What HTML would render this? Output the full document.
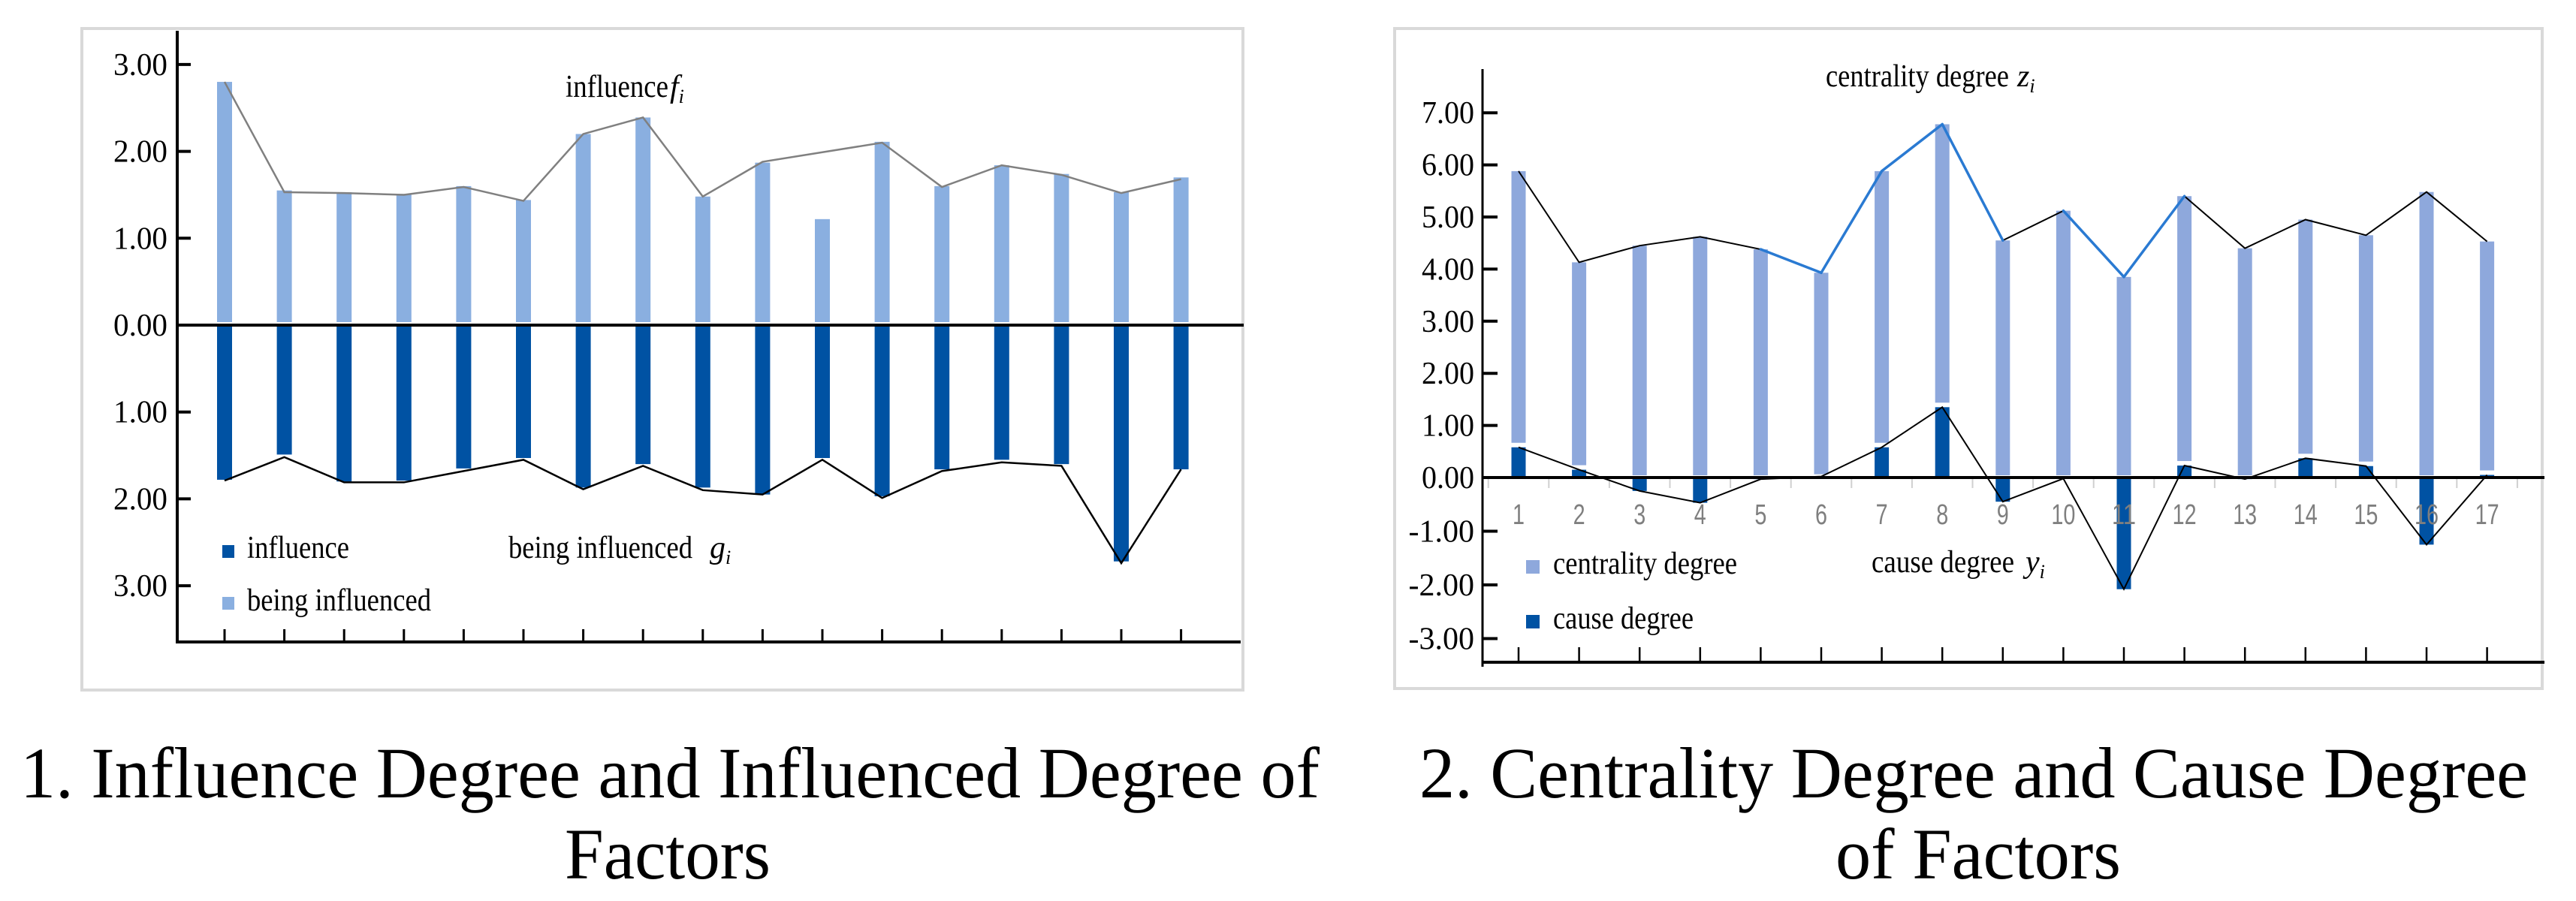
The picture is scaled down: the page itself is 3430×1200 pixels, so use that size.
<!DOCTYPE html>
<html><head><meta charset="utf-8"><style>
html,body{margin:0;padding:0;background:#fff;}
svg{display:block;font-family:"Liberation Serif",serif;}
</style></head><body>
<svg id="root" width="3430" height="1200" viewBox="0 0 3430 1200" xmlns="http://www.w3.org/2000/svg">
<g id="c1"></g>
<g id="c2"></g>
<text x="892" y="1062" font-size="96" text-anchor="middle" textLength="1730" lengthAdjust="spacingAndGlyphs">1. Influence Degree and Influenced Degree of</text>
<text x="889" y="1170" font-size="96" text-anchor="middle" textLength="274" lengthAdjust="spacingAndGlyphs">Factors</text>
<text x="2628" y="1062" font-size="96" text-anchor="middle" textLength="1476" lengthAdjust="spacingAndGlyphs">2. Centrality Degree and Cause Degree</text>
<text x="2634" y="1170" font-size="96" text-anchor="middle" textLength="380" lengthAdjust="spacingAndGlyphs">of Factors</text>
</svg>
<script>
// ---- Chart 1 data ----
const cats1 = [1,2,3,4,5,6,7,8,9,10,11,12,13,14,15,16,17];
const beingInfluenced = [2.80,1.55,1.53,1.51,1.60,1.44,2.20,2.39,1.48,1.87,1.22,2.11,1.60,1.84,1.74,1.53,1.70];
const fLine = [2.80,1.53,1.52,1.50,1.59,1.43,2.20,2.39,1.48,1.88,1.99,2.10,1.59,1.84,1.73,1.52,1.68];
const influence = [1.78,1.49,1.80,1.79,1.65,1.53,1.87,1.60,1.87,1.95,1.53,1.97,1.66,1.55,1.60,2.72,1.66];
const gLine = [1.79,1.52,1.81,1.81,1.68,1.55,1.89,1.62,1.90,1.95,1.55,1.99,1.68,1.58,1.62,2.74,1.66];
const ticks1Up = [3,2,1,0];
const ticks1Down = [1,2,3];
const tickLabels1Up = ["3.00","2.00","1.00","0.00"];
const tickLabels1Down = ["1.00","2.00","3.00"];
// ---- Chart 2 data ----
const cats2 = ["1","2","3","4","5","6","7","8","9","10","11","12","13","14","15","16","17"];
const centrality = [5.88,4.13,4.45,4.62,4.38,3.93,5.88,6.78,4.55,5.12,3.85,5.40,4.40,4.95,4.65,5.48,4.53];
const cause = [0.58,0.15,-0.25,-0.47,-0.03,0.02,0.58,1.35,-0.45,-0.02,-2.08,0.23,-0.03,0.37,0.22,-1.25,0.05];
const blueSegments = [4,5,6,7,9,10];
const ticks2 = [7,6,5,4,3,2,1,0,-1,-2,-3];
const tickLabels2 = ["7.00","6.00","5.00","4.00","3.00","2.00","1.00","0.00","-1.00","-2.00","-3.00"];

const NS="http://www.w3.org/2000/svg";
function mk(parent,tag,attrs,text){const e=document.createElementNS(NS,tag);for(const k in attrs)e.setAttribute(k,attrs[k]);if(text!==undefined)e.textContent=text;parent.appendChild(e);return e;}

// ===== Chart 1 =====
(function(){
const g=document.getElementById('c1');
const x=i=>299+i*79.6;
const yUp=v=>433-v*115.7;
const yDn=v=>433+v*115.7;
let e=mk(g,'rect',{x:109,y:38,width:1546,height:881,fill:'#fff',stroke:'#d9d9d9','stroke-width':4});

beingInfluenced.forEach((v,i)=>{const b=mk(g,'rect',{x:x(i)-10,y:yUp(v),width:20,height:yUp(0)-4-yUp(v),fill:'#8aafe0'});
});
influence.forEach((v,i)=>{const b=mk(g,'rect',{x:x(i)-10,y:yDn(0)+2,width:20,height:yDn(v)-yDn(0)-2,fill:'#0052a3'});
});
e=mk(g,'polyline',{points:fLine.map((v,i)=>x(i)+','+yUp(v)).join(' '),fill:'none',stroke:'#808080','stroke-width':2.5});

e=mk(g,'polyline',{points:gLine.map((v,i)=>x(i)+','+yDn(v)).join(' '),fill:'none',stroke:'#000','stroke-width':2.5});

e=mk(g,'line',{x1:236,y1:41,x2:236,y2:857,stroke:'#000','stroke-width':4});

e=mk(g,'line',{x1:236,y1:433,x2:1656,y2:433,stroke:'#000','stroke-width':4});

e=mk(g,'line',{x1:234,y1:855,x2:1652,y2:855,stroke:'#000','stroke-width':4});

cats1.forEach((c,i)=>{const t=mk(g,'line',{x1:x(i),y1:838,x2:x(i),y2:855,stroke:'#000','stroke-width':3});
});
ticks1Up.forEach((v,i)=>{const y=yUp(v);const t=mk(g,'line',{x1:236,y1:y,x2:254,y2:y,stroke:'#000','stroke-width':4});

const l=mk(g,'text',{x:223,y:y+14,'font-size':42,'text-anchor':'end',textLength:72,lengthAdjust:'spacingAndGlyphs'},tickLabels1Up[i]);
});
ticks1Down.forEach((v,i)=>{const y=yDn(v);const t=mk(g,'line',{x1:236,y1:y,x2:254,y2:y,stroke:'#000','stroke-width':4});

const l=mk(g,'text',{x:223,y:y+14,'font-size':42,'text-anchor':'end',textLength:72,lengthAdjust:'spacingAndGlyphs'},tickLabels1Down[i]);
});
e=mk(g,'text',{x:753,y:129,'font-size':42,textLength:137,lengthAdjust:'spacingAndGlyphs'},'influence');

e=mk(g,'text',{x:892,y:129,'font-size':42,'font-style':'italic'},'f');

mk(e,'tspan',{'font-size':26,dy:8},'i');
e=mk(g,'text',{x:677,y:743,'font-size':42,textLength:245,lengthAdjust:'spacingAndGlyphs'},'being influenced');

e=mk(g,'text',{x:945,y:743,'font-size':42,'font-style':'italic'},'g');

mk(e,'tspan',{'font-size':26,dy:8},'i');
e=mk(g,'rect',{x:296,y:726,width:16,height:17,fill:'#0052a3'});

e=mk(g,'text',{x:329,y:743,'font-size':42,textLength:136,lengthAdjust:'spacingAndGlyphs'},'influence');

e=mk(g,'rect',{x:296,y:795,width:16,height:17,fill:'#8aafe0'});

e=mk(g,'text',{x:329,y:813,'font-size':42,textLength:245,lengthAdjust:'spacingAndGlyphs'},'being influenced');

})();

// ===== Chart 2 =====
(function(){
const g=document.getElementById('c2');
const x=i=>2022+i*80.6;
const y=v=>v>=0?636-v*69.4:636-v*71.5;
let e=mk(g,'rect',{x:1857,y:38,width:1528,height:879,fill:'#fff',stroke:'#d9d9d9','stroke-width':4});

for(let i=0;i<=cats2.length;i++){const t=mk(g,'line',{x1:x(i)-40.3,y1:636,x2:x(i)-40.3,y2:650,stroke:'#d0d0d0','stroke-width':2});
}
centrality.forEach((v,i)=>{const base=Math.max(cause[i],0);const b0=y(base)-(base>0.02?6:3);
const b=mk(g,'rect',{x:x(i)-9.5,y:y(v),width:19,height:Math.max(0,b0-y(v)),fill:'#8ea8dc'});
});
cause.forEach((v,i)=>{const y0=Math.min(y(v),y(0)),h=Math.abs(y(v)-y(0));
const b=mk(g,'rect',{x:x(i)-9.5,y:y0,width:19,height:h,fill:'#0052a3'});
});
e=mk(g,'polyline',{points:centrality.map((v,i)=>x(i)+','+y(v)).join(' '),fill:'none',stroke:'#000','stroke-width':2});

blueSegments.forEach(s=>{const l=mk(g,'line',{x1:x(s),y1:y(centrality[s]),x2:x(s+1),y2:y(centrality[s+1]),stroke:'#2a7ad2','stroke-width':3.5,'stroke-linecap':'round'});
});
e=mk(g,'polyline',{points:cause.map((v,i)=>x(i)+','+y(v)).join(' '),fill:'none',stroke:'#000','stroke-width':2});

e=mk(g,'line',{x1:1974,y1:92,x2:1974,y2:888,stroke:'#000','stroke-width':3});

e=mk(g,'line',{x1:1974,y1:636,x2:3388,y2:636,stroke:'#000','stroke-width':4});

e=mk(g,'line',{x1:1974,y1:882,x2:3388,y2:882,stroke:'#000','stroke-width':4});

cats2.forEach((c,i)=>{const t=mk(g,'line',{x1:x(i),y1:862,x2:x(i),y2:882,stroke:'#000','stroke-width':2.5});

const l=mk(g,'text',{x:x(i),y:698,'font-size':38,'text-anchor':'middle',fill:'#7f7f7f','font-family':'"Liberation Sans Narrow","Liberation Sans",sans-serif',textLength:c.length*16,lengthAdjust:'spacingAndGlyphs'},c);
});
ticks2.forEach((v,i)=>{const yy=y(v);const t=mk(g,'line',{x1:1974,y1:yy,x2:1994,y2:yy,stroke:'#000','stroke-width':4});

const l=mk(g,'text',{x:1963,y:yy+14,'font-size':42,'text-anchor':'end',textLength:tickLabels2[i].length*17.5,lengthAdjust:'spacingAndGlyphs'},tickLabels2[i]);
});
e=mk(g,'text',{x:2431,y:115,'font-size':42,textLength:244,lengthAdjust:'spacingAndGlyphs'},'centrality degree');

e=mk(g,'text',{x:2686,y:115,'font-size':42,'font-style':'italic'},'z');

mk(e,'tspan',{'font-size':26,dy:8},'i');
e=mk(g,'text',{x:2492,y:762,'font-size':42,textLength:190,lengthAdjust:'spacingAndGlyphs'},'cause degree');

e=mk(g,'text',{x:2697,y:762,'font-size':42,'font-style':'italic'},'y');

mk(e,'tspan',{'font-size':26,dy:8},'i');
e=mk(g,'rect',{x:2032,y:746,width:18,height:18,fill:'#8ea8dc'});

e=mk(g,'text',{x:2068,y:764,'font-size':42,textLength:245,lengthAdjust:'spacingAndGlyphs'},'centrality degree');

e=mk(g,'rect',{x:2032,y:819,width:18,height:18,fill:'#0052a3'});

e=mk(g,'text',{x:2068,y:837,'font-size':42,textLength:187,lengthAdjust:'spacingAndGlyphs'},'cause degree');

})();
</script>
</body></html>
